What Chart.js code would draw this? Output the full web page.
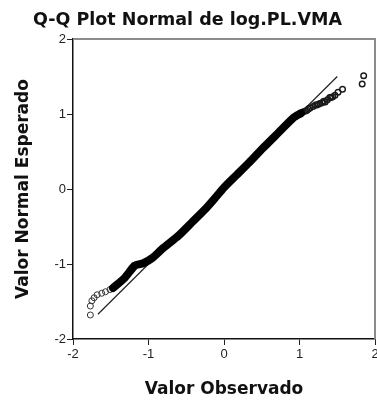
<!DOCTYPE html>
<html>
<head>
<meta charset="utf-8">
<script src="https://cdn.jsdelivr.net/npm/chart.js@4"></script>
<style>
  html, body { margin: 0; padding: 0; background: #fff; }
  #wrap { width: 377px; height: 405px; }
</style>
</head>
<body>
<div id="wrap"><canvas id="qqChart"></canvas></div>
<script>
// dense middle of the sample, traced as one thick band
const bandX = [-1.47, -1.32, -1.18, -1.07, -0.95, -0.82, -0.60, -0.42, -0.25, -0.11, 0.00, 0.16, 0.33, 0.50, 0.72, 0.92, 1.02];
const bandY = [-1.32, -1.19, -1.02, -0.99, -0.92, -0.80, -0.62, -0.44, -0.27, -0.11, 0.02, 0.18, 0.35, 0.53, 0.75, 0.95, 1.01];

// individual observations in the tails
const lowX = [-1.77, -1.77, -1.75, -1.72, -1.68, -1.62, -1.57, -1.51, -1.47];
const lowY = [-1.68, -1.56, -1.49, -1.45, -1.41, -1.39, -1.37, -1.34, -1.32];
const highX = [1.05, 1.08, 1.10, 1.12, 1.14, 1.18, 1.21, 1.23, 1.25, 1.27, 1.30, 1.32, 1.34, 1.37, 1.40, 1.42, 1.44, 1.47, 1.51, 1.57, 1.83, 1.85];
const highY = [1.03, 1.04, 1.05, 1.07, 1.08, 1.10, 1.12, 1.12, 1.13, 1.14, 1.15, 1.17, 1.16, 1.19, 1.22, 1.22, 1.23, 1.25, 1.29, 1.33, 1.40, 1.51];

// reference line
const lineX = [-1.67, 1.50];
const lineY = [-1.67, 1.50];

const tickValues = [-2, -1, 0, 1, 2];

const toPoints = (xs, ys) => xs.map((x, i) => ({ x: x, y: ys[i] }));

// gray frame on the top and right of the plot area
const framePlugin = {
  id: "frame",
  afterDraw(chart) {
    const { ctx, chartArea } = chart;
    ctx.save();
    ctx.strokeStyle = "#8c8c8c";
    ctx.lineWidth = 2;
    ctx.beginPath();
    ctx.moveTo(chartArea.left, chartArea.top);
    ctx.lineTo(chartArea.right, chartArea.top);
    ctx.lineTo(chartArea.right, chartArea.bottom);
    ctx.stroke();
    ctx.restore();
  },
};

const tickFont = { family: "'Liberation Sans', Arial, sans-serif", size: 13 };
const axisTitleFont = { family: "'DejaVu Sans', Verdana, sans-serif", size: 17, weight: "bold" };

new Chart(document.getElementById("qqChart"), {
  type: "scatter",
  data: {
    datasets: [
      {
        label: "band",
        type: "line",
        data: toPoints(bandX, bandY),
        borderColor: "#000",
        borderWidth: 8,
        pointRadius: 0,
        tension: 0.2,
        borderCapStyle: "round",
      },
      {
        label: "low",
        data: toPoints(lowX, lowY),
        pointRadius: 3,
        pointBorderWidth: 1,
        pointBorderColor: "#333",
        pointBackgroundColor: "rgba(255,255,255,0)",
      },
      {
        label: "high",
        data: toPoints(highX, highY),
        pointRadius: 2.8,
        pointBorderWidth: 1.4,
        pointBorderColor: "#1a1a1a",
        pointBackgroundColor: "rgba(255,255,255,0)",
      },
      {
        label: "line",
        type: "line",
        data: toPoints(lineX, lineY),
        borderColor: "#222",
        borderWidth: 1.2,
        pointRadius: 0,
      },
    ],
  },
  options: {
    responsive: true,
    maintainAspectRatio: false,
    animation: false,
    layout: { autoPadding: false, padding: { right: 2 } },
    plugins: {
      legend: { display: false },
      tooltip: { enabled: false },
      title: {
        display: true,
        text: "Q-Q Plot Normal de log.PL.VMA",
        color: "#111",
        font: { family: "'DejaVu Sans', Verdana, sans-serif", size: 17.5, weight: "bold" },
        padding: { top: 9.5, bottom: 8.5 },
      },
    },
    scales: {
      x: {
        type: "linear",
        min: -2,
        max: 2,
        afterFit: (scale) => {
          scale.height = 66;
          scale.paddingRight = 0;
        },
        afterBuildTicks: (scale) => { scale.ticks = tickValues.map((v) => ({ value: v })); },
        ticks: { color: "#222", font: tickFont, padding: 2 },
        grid: { drawOnChartArea: false, drawTicks: true, tickLength: 6, color: "#222" },
        border: { color: "#111", width: 1.5 },
        title: {
          display: true,
          text: "Valor Observado",
          color: "#111",
          font: axisTitleFont,
          padding: { bottom: 5 },
        },
      },
      y: {
        type: "linear",
        min: -2,
        max: 2,
        afterFit: (scale) => {
          scale.width = 73;
        },
        afterBuildTicks: (scale) => { scale.ticks = tickValues.map((v) => ({ value: v })); },
        ticks: { color: "#222", font: tickFont, padding: 1 },
        grid: { drawOnChartArea: false, drawTicks: true, tickLength: 6, color: "#222" },
        border: { color: "#111", width: 1.5 },
        title: {
          display: true,
          text: "Valor Normal Esperado",
          color: "#111",
          font: axisTitleFont,
          padding: { top: 13 },
        },
      },
    },
  },
  plugins: [framePlugin],
});
</script>
</body>
</html>
